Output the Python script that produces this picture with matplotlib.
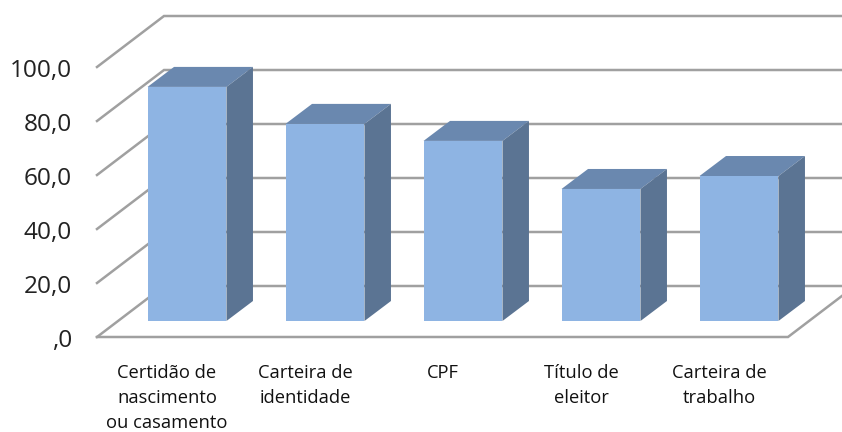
import matplotlib
matplotlib.use('Agg')
import matplotlib.pyplot as plt

categories = ['Certidão de\nnascimento\nou casamento', 'Carteira de\nidentidade', 'CPF',
              'Título de\neleitor', 'Carteira de\ntrabalho']
values = [86.7, 73.0, 66.7, 48.9, 53.7]
y_ticks = [0, 20, 40, 60, 80, 100]
y_tick_labels = [',0', '20,0', '40,0', '60,0', '80,0', '100,0']

fig = plt.figure(figsize=(8.42, 4.32), dpi=100)
ax = fig.add_axes([0, 0, 1, 1])
ax.set_xlim(-187 / 138, 655 / 138)
ax.set_ylim(-111 / 2.7, 321 / 2.7)
ax.axis('off')

grid_color = '#a0a0a0'
front_color = '#8eb4e3'
top_color = '#6a88af'
side_color = '#5b7493'

bar_width = 0.572
bar_dx = 26.5 / 138
bar_dy = 20 / 2.7

# walls and floor, offset from the bar plane
floor_y = -16 / 2.7
left_x = -90 / 138
right_x = 601 / 138
wall_dx = 67 / 138
wall_dy = 51 / 2.7

for t in y_ticks:
    y0 = floor_y + t
    ax.plot([left_x, left_x + wall_dx, right_x + wall_dx], [y0, y0 + wall_dy, y0 + wall_dy],
            color=grid_color, lw=1.8, zorder=1, solid_joinstyle='miter')
ax.plot([left_x, right_x, right_x + wall_dx], [floor_y, floor_y, floor_y + wall_dy],
        color=grid_color, lw=1.8, zorder=1, solid_joinstyle='miter')

x_pos = list(range(len(values)))
ax.bar(x_pos, values, width=bar_width, color=front_color, zorder=3)
for x, v in zip(x_pos, values):
    x0 = x - bar_width / 2
    x1 = x + bar_width / 2
    ax.fill([x0, x1, x1 + bar_dx, x0 + bar_dx], [v, v, v + bar_dy, v + bar_dy],
            color=top_color, lw=0, zorder=2)
    ax.fill([x1, x1 + bar_dx, x1 + bar_dx, x1], [0, bar_dy, v + bar_dy, v],
            color=side_color, lw=0, zorder=2)

for t, lab in zip(y_ticks, y_tick_labels):
    ax.text(-115 / 138, floor_y + t - 10 / 2.7, lab, ha='right', va='baseline', fontsize=17.6,
            family='Open Sans', color='#222222')

for x, lab in zip(x_pos, categories):
    ax.text(x - 20 / 138, -15.8, lab, ha='center', va='top', fontsize=13.2,
            family='Open Sans', color='#111111', linespacing=1.5)

fig.savefig('out.png', dpi=100)
